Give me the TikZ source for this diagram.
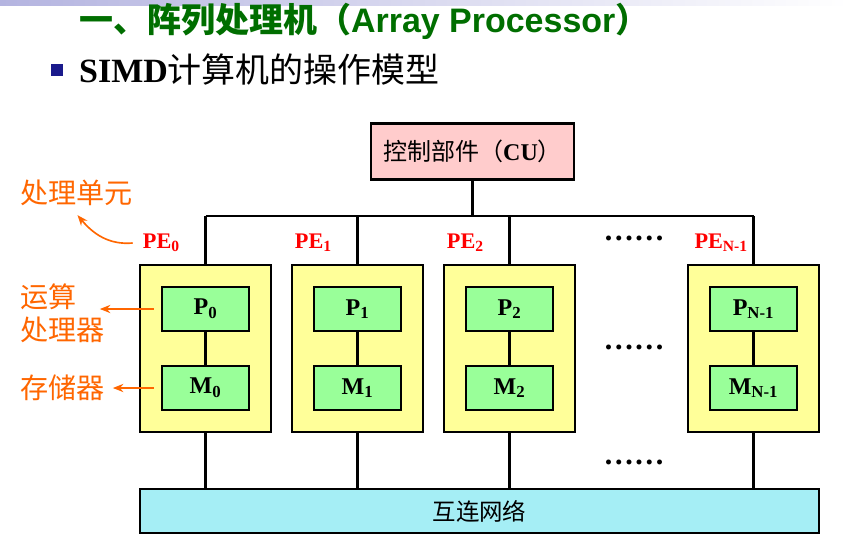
\documentclass[tikz,border=0pt]{standalone}
\usepackage{fontspec}
\setmainfont{Liberation Serif}
\newfontfamily\cjk{Noto Sans CJK SC}
\newfontfamily\headsans{Liberation Sans}
\usetikzlibrary{arrows.meta,calc,positioning}

\definecolor{titlegreen}{HTML}{006E00}
\definecolor{bulletnavy}{HTML}{1A1A8C}
\definecolor{barlavender}{HTML}{B4B4E0}
\definecolor{cupink}{HTML}{FFCCCC}
\definecolor{peyellow}{HTML}{FFFF99}
\definecolor{unitgreen}{HTML}{99FF99}
\definecolor{netcyan}{HTML}{A5EEF5}
\definecolor{noteorange}{HTML}{FF6600}

\tikzset{
  box/.style={draw=black, line width=2pt, inner sep=0pt},
  cubox/.style={box, fill=cupink, minimum width=6.09cm, minimum height=1.68cm,
    font=\cjk\fontsize{20.5}{22}\selectfont},
  pebox/.style={box, fill=peyellow, minimum width=3.93cm, minimum height=5.01cm},
  unitbox/.style={box, fill=unitgreen, minimum width=2.61cm, minimum height=1.32cm,
    font=\fontsize{20.5}{22}\selectfont\bfseries},
  netbox/.style={box, fill=netcyan, minimum width=20.37cm, minimum height=1.32cm,
    font=\cjk\fontsize{20}{22}\selectfont},
  wire/.style={line width=1.8pt},
  pelabel/.style={text=red, inner sep=0pt, anchor=east,
    font=\fontsize{19}{21}\selectfont\bfseries},
  note/.style={text=noteorange, inner sep=0pt, anchor=west, align=left,
    font=\cjk\fontsize{24}{28}\selectfont},
  notearrow/.style={draw=noteorange, line width=1.4pt, -{Stealth[length=9pt,width=7pt]}},
  dots/.style={inner sep=0pt, font=\fontsize{26}{26}\selectfont\bfseries}
}

\begin{document}
\begin{tikzpicture}[x=0.03cm, y=-0.03cm]
  \useasboundingbox (0,0) rectangle (848,554);

  % slide header
  \shade[left color=barlavender, right color=white] (0,0) rectangle (848,5);
  \node[anchor=west, inner sep=0pt, text=titlegreen, font=\cjk\bfseries\fontsize{29}{31}\selectfont]
    (title) at (79,21) {一、阵列处理机（{\headsans\bfseries Array Processor}）};
  \node[fill=bulletnavy, inner sep=0pt, minimum size=0.36cm] (bullet) at (57,70) {};
  \node[anchor=west, inner sep=0pt, font=\cjk\fontsize{29}{31}\selectfont]
    (subtitle) at (79,70) {{\rmfamily\bfseries SIMD}计算机的操作模型};

  % control unit, bus and interconnection network
  \node[cubox] (cu) at (472.5,151.5) {控制部件（{\rmfamily\bfseries CU}）};
  \node[netbox] (net) at (479.5,511) {互连网络};
  \coordinate (bus) at (472.5,216);

  % processing elements
  \foreach \i/\x/\sub/\lx in {0/205.5/0/180, 1/357.5/1/332, 2/509.5/2/484, 3/753.5/N-1/748} {
    \node[pebox] (pe\i) at (\x,348.5) {};
    \node[unitbox] (p\i) at (\x,309) {P\textsubscript{\sub}};
    \node[unitbox] (m\i) at (\x,388) {M\textsubscript{\sub}};
    \node[pelabel] (pel\i) at (\lx,243) {PE\textsubscript{\sub}};
    \draw[wire] (p\i) -- (m\i);
    \draw[wire] (pe\i.north) -- (pe\i.north |- bus);
    \draw[wire] (pe\i.south) -- (pe\i.south |- net.north);
  }
  \draw[wire] (cu.south) -- (bus);
  \draw[wire] (pe0.north |- bus) -- (pe3.north |- bus);

  % omitted elements
  \node[dots] (dtop) at (634,238) {……};
  \node[dots] (dmid) at (634,347) {……};
  \node[dots] (dbot) at (634,462) {……};

  % notes on the left
  \node[note] (peunit) at (20,193) {处理单元};
  \node[note] (alu) at (20,313) {运算\\处理器};
  \node[note] (mem) at (20,388) {存储器};
  \draw[notearrow] ($(pel0.west)+(-10,0)$) to[out=185, in=-50] ($(peunit.south)+(1,9)$);
  \draw[notearrow] ($(p0.west)+(-7,0)$) -- ($(alu.east |- p0.west)+(-5,0)$);
  \draw[notearrow] ($(m0.west)+(-7,0)$) -- ($(mem.east |- m0.west)+(8,0)$);
\end{tikzpicture}
\end{document}
